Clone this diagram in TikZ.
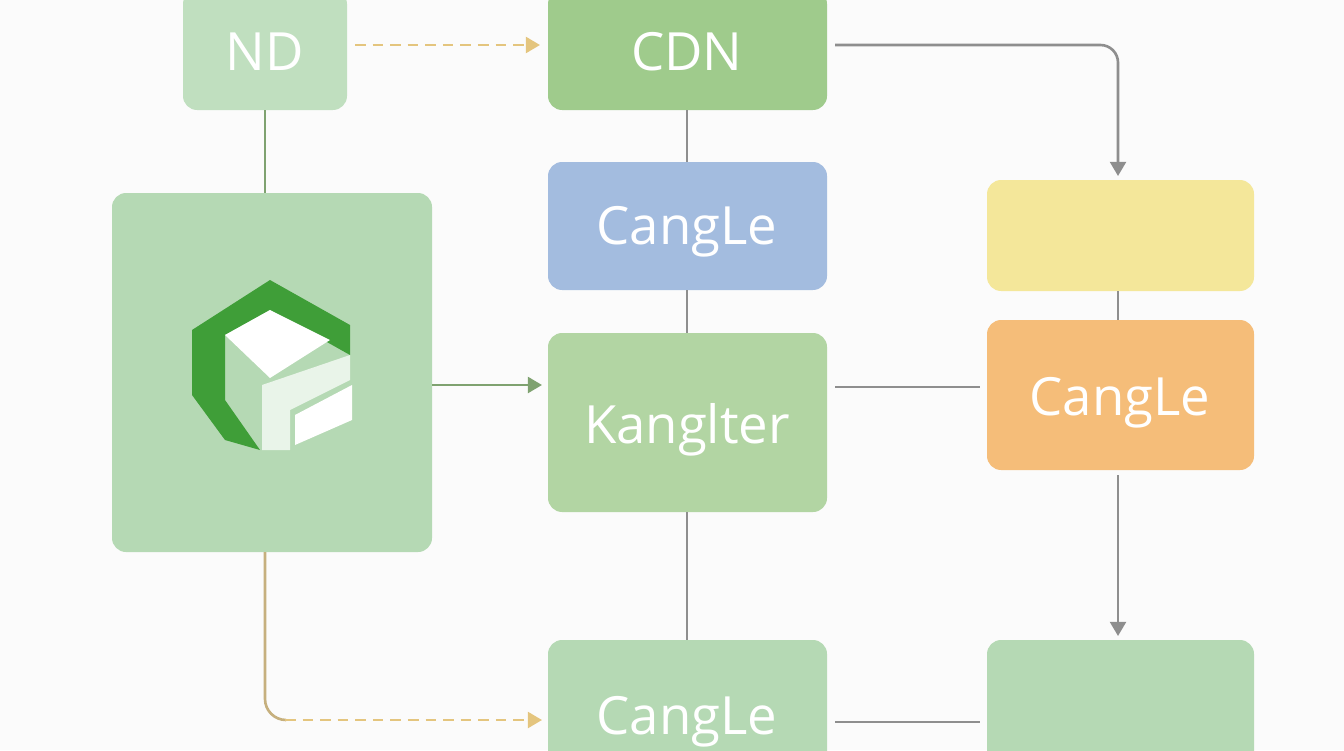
\documentclass[tikz,border=0pt]{standalone}
\usepackage{fontspec}
\setmainfont{Open Sans}
\usetikzlibrary{arrows.meta, positioning}

\definecolor{boxgreen}{HTML}{9FCB8C}
\definecolor{palegreen}{HTML}{B5D9B4}
\definecolor{boxblue}{HTML}{A3BCDF}
\definecolor{boxyellow}{HTML}{F4E79A}
\definecolor{boxorange}{HTML}{F5BD79}
\definecolor{linegray}{HTML}{8E8E8E}
\definecolor{dashyellow}{HTML}{E4C57E}

\begin{document}
\begin{tikzpicture}[x=0.02cm,y=-0.02cm,>={Triangle[length=8pt,width=9pt]},
        box/.style={rounded corners=8pt},
        lbl/.style={text=white,font=\fontsize{30}{30}\selectfont},
        link/.style={linegray,line width=1.5pt},
        dashlink/.style={dashyellow,line width=1.5pt,dash pattern=on 6pt off 4pt}]
    \useasboundingbox (0,0) rectangle (1344,750);
    \fill[white!97!gray] (0,0) rectangle (1344,750);

    % boxes
    \fill[box,palegreen!85!white] (183,-10) rectangle (347,110);
    \node[lbl] (nd) at (265,52) {ND};
    \coordinate (ndb) at (265,110);
    \fill[box,boxgreen] (548,-10) rectangle (827,110);
    \node[lbl] (cdn) at (687,52) {CDN};
    \fill[box,boxblue] (548,162) rectangle (827,290);
    \node[lbl] (c1) at (687,232) {CangLe};
    \fill[box,boxgreen!80!white] (548,333) rectangle (827,512);
    \node[lbl] (kang) at (687,430) {Kanglter};
    \fill[box,palegreen] (548,640) rectangle (827,770);
    \node[lbl] (c3) at (687,722) {CangLe};
    \fill[box,palegreen] (112,193) rectangle (432,552);
    \fill[box,boxyellow] (987,180) rectangle (1254,291);
    \fill[box,boxorange] (987,320) rectangle (1254,470);
    \node[lbl] (c2) at (1120,403) {CangLe};
    \fill[box,palegreen] (987,640) rectangle (1254,770);

    % cube icon
    \fill[green!50!black!60!boxgreen] (270,280) -- (350,325) -- (350,355) -- (270,310) -- (225,335) -- (225,400) -- (260,450) -- (225,440) -- (192,395) -- (192,330) -- cycle;
    \fill[white] (225,335) -- (270,310) -- (330,340) -- (270,378) -- cycle;
    \fill[white!70!palegreen] (262,385) -- (350,355) -- (350,380) -- (290,410) -- (290,450) -- (262,450) -- cycle;
    \fill[white] (295,415) -- (352,385) -- (352,420) -- (295,445) -- cycle;

    % connectors
    \draw[dashlink,->] (355,45) -- (540,45);
    \draw[link,->,rounded corners=10pt] (835,45) -- (1118,45) -- (1118,176);
    \draw[link] (687,110) -- (687,162);
    \draw[link] (687,290) -- (687,333);
    \draw[link] (687,512) -- (687,640);
    \draw[boxgreen!80!black,line width=1.5pt] (ndb) -- (265,193);
    \draw[boxgreen!80!black,line width=1.5pt,->] (432,385) -- (542,385);
    \draw[link] (835,387) -- (980,387);
    \draw[link] (1118,291) -- (1118,320);
    \draw[link,->] (1118,475) -- (1118,636);
    \draw[dashyellow!70!gray,line width=1.5pt,rounded corners=12pt] (265,552) -- (265,720) -- (285,720);
    \draw[dashlink,->] (285,720) -- (542,720);
    \draw[link] (835,722) -- (980,722);
\end{tikzpicture}
\end{document}
